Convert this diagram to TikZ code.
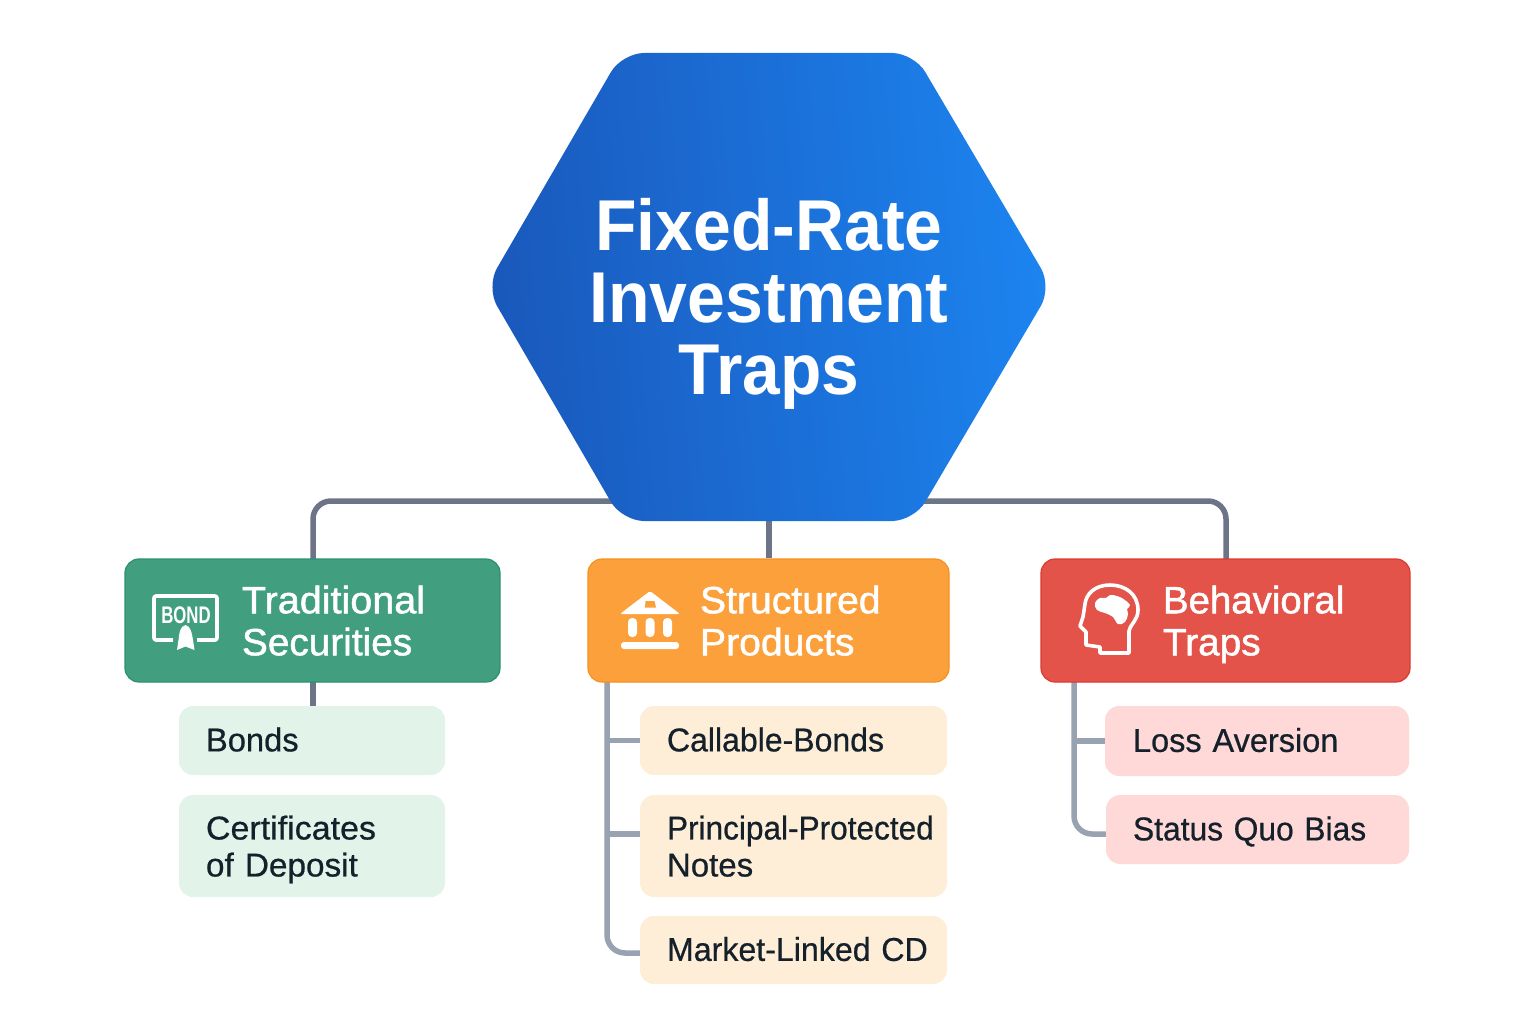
\documentclass[tikz,border=0pt]{standalone}
\usepackage{fontspec}
\setmainfont{Liberation Sans}
\newfontfamily\medfont[FakeBold=1.3]{Liberation Sans}
\newfontfamily\subfont[FakeBold=0.6]{Liberation Sans}
\usetikzlibrary{backgrounds}
\definecolor{lineDark}{HTML}{6E7488}
\definecolor{lineLight}{HTML}{98A2B0}
\definecolor{hexA}{HTML}{1A58BB}
\definecolor{hexB}{HTML}{1C84F0}
\definecolor{greenF}{HTML}{419F80}\definecolor{greenD}{HTML}{2A9070}
\definecolor{orangeF}{HTML}{FBA03B}\definecolor{orangeD}{HTML}{F6901F}
\definecolor{redF}{HTML}{E35349}\definecolor{redD}{HTML}{DC3A30}
\definecolor{greenL}{HTML}{E2F4E9}
\definecolor{orangeL}{HTML}{FEEDD7}
\definecolor{redL}{HTML}{FFD9D8}
\definecolor{subText}{HTML}{14202A}
\newcommand{\tx}[3]{\hspace*{#1pt}\scalebox{#2}[1]{\raisebox{0pt}[\height][0pt]{#3}}}
\newcommand{\txs}[3]{\hspace*{#1pt}\scalebox{#2}[1]{\raisebox{0pt}[\height][2.2pt]{#3}}}
\tikzset{
  linkDark/.style={draw=lineDark,line width=5.5pt,rounded corners=18pt},
  linkLight/.style={draw=lineLight,line width=5.5pt,rounded corners=18pt},
  headbox/.style={rectangle,rounded corners=14pt,line width=1.2pt,inner sep=0pt,text width=#1,align=left,text=white,font=\fontsize{38}{42}\selectfont\medfont},
  subbox/.style={rectangle,rounded corners=14pt,inner sep=0pt,text width=#1,align=left,text=subText,font=\fontsize{33}{37}\selectfont\subfont},
  iconline/.style={draw=white,line width=3.6pt,line join=round},
}
\begin{document}
\begin{tikzpicture}[x=1pt,y=-1pt]
\useasboundingbox (0,0) rectangle (1536,1024);
% hexagon
\shade[left color=hexA,right color=hexB,shading angle=95,rounded corners=22pt]
  (622,53) -- (914,53) -- (1052,287) -- (914,521) -- (622,521) -- (486,287) -- cycle;
\node[rectangle,minimum width=500pt,minimum height=468pt,inner sep=0pt] (hex) at (769,287) {};
\node[inner sep=0pt,align=center,text=white,
  font=\fontsize{72}{72}\selectfont\bfseries] (hexText) at (769,296.5) {\scalebox{0.943}[1]{Fixed-Rate}\\\scalebox{0.945}[1]{Investment}\\\scalebox{0.94}[1]{\raisebox{0pt}[\height][0pt]{Traps}}};
% head boxes
\node[headbox=375pt,fill=greenF,draw=greenD,minimum height=123pt] (trad) at (312.5,620.5) {\tx{117}{1.04}{Traditional}\\\tx{117}{1.02}{Securities}};
\node[headbox=361pt,fill=orangeF,draw=orangeD,minimum height=123pt] (stru) at (768.5,620.5) {\tx{112}{1.03}{Structured}\\\tx{112}{1.03}{Products}};
\node[headbox=369pt,fill=redF,draw=redD,minimum height=123pt] (beha) at (1225.5,620.5) {\tx{122}{1.01}{Behavioral}\\\tx{122}{1.02}{Traps}};
% sub boxes
\node[subbox=266pt,fill=greenL,minimum height=69pt] (bonds) at (312,740.5) {\txs{27}{0.99}{Bonds}};
\node[subbox=266pt,fill=greenL,minimum height=102pt] (cert) at (312,846) {\tx{27}{1.03}{Certificates}\\\tx{27}{1.01}{of Deposit}};
\node[subbox=307pt,fill=orangeL,minimum height=69pt] (call) at (793.5,740.5) {\txs{27}{0.97}{Callable-Bonds}};
\node[subbox=307pt,fill=orangeL,minimum height=102pt] (prin) at (793.5,846) {\tx{27}{0.957}{Principal-Protected}\\\tx{27}{1}{Notes}};
\node[subbox=307pt,fill=orangeL,minimum height=68pt] (mark) at (793.5,950) {\txs{27}{0.974}{Market-Linked CD}};
\node[subbox=304pt,fill=redL,minimum height=70pt] (loss) at (1257,741) {\txs{28}{0.985}{Loss Aversion}};
\node[subbox=303pt,fill=redL,minimum height=69pt] (stat) at (1257.5,829.5) {\txs{27}{0.963}{Status Quo Bias}};
% connector ends
\coordinate (hexL) at (640,501);
\coordinate (hexR) at (900,501);
\coordinate (tradTop) at (313,559);
\coordinate (tradBot) at (313,682);
\coordinate (bondTop) at (313,706);
\coordinate (beTop) at (1226,559);
\coordinate (stTrunk) at (607,682);
\coordinate (beTrunk) at (1074,682);
\coordinate (markIn) at (640,953);
\coordinate (prinIn) at (640,834);
\coordinate (statIn) at (1106,834);
\begin{scope}[on background layer]
\draw[linkDark] (hexL) -| (tradTop);
\draw[linkDark] (hexR) -| (beTop);
\draw[linkDark] (hex.south) -- (hex.south |- stru.north);
\draw[linkDark] (tradBot) -- (bondTop);
\draw[linkLight] (stTrunk) |- (markIn);
\draw[linkLight,sharp corners] (stTrunk |- call.west) -- (call.west);
\draw[linkLight,sharp corners] (stTrunk |- prinIn) -- (prinIn);
\draw[linkLight] (beTrunk) |- (statIn);
\draw[linkLight,sharp corners] (beTrunk |- loss.west) -- (loss.west);
\end{scope}
% bond icon
\draw[iconline,rounded corners=2pt] (173,640) -- (154,640) -- (154,596) -- (217,596) -- (217,640) -- (197,640);
\node[inner sep=0pt,text=white,font=\fontsize{24}{24}\selectfont\bfseries] (bondword) at (186,615) {\scalebox{0.7}[1]{BOND}};
\fill[white] (185.5,625) .. controls (180,626) and (179,634) .. (178.5,640) -- (177,650) -- (185.5,646.5) -- (194.5,650) -- (193,640) .. controls (192,634) and (191,626) .. (185.5,625) -- cycle;
% bank icon
\fill[white,rounded corners=2pt] (650,591) -- (680,614) -- (620,614) -- cycle;
\fill[orangeF] (645.5,601) -- (654.5,601) -- (656,607.5) -- (645,607.5) -- cycle;
\fill[white,rounded corners=4pt] (628,618) rectangle (637,637);
\fill[white,rounded corners=4pt] (645.5,618) rectangle (654.5,637);
\fill[white,rounded corners=4pt] (663,618) rectangle (672,637);
\fill[white,rounded corners=3pt] (621,642) rectangle (679,649);
% head icon
\draw[iconline] (1129,653) -- (1129,631) .. controls (1131,623) and (1138,620) .. (1138,610)
  .. controls (1138,594) and (1125,585) .. (1110,585)
  .. controls (1095,585) and (1086,594) .. (1085,604) -- (1083,617) -- (1080,626) -- (1086,632) -- (1086,645) -- (1100,647) -- (1100,653) -- cycle;
\fill[white] plot[smooth cycle,tension=0.7] coordinates {(1095,603) (1100,598) (1106,598) (1110,595) (1117,596) (1122,598) (1130,605) (1127,609) (1128,614) (1125,622) (1118,624) (1113,617) (1105,613) (1097,610)};
\end{tikzpicture}
\end{document}
